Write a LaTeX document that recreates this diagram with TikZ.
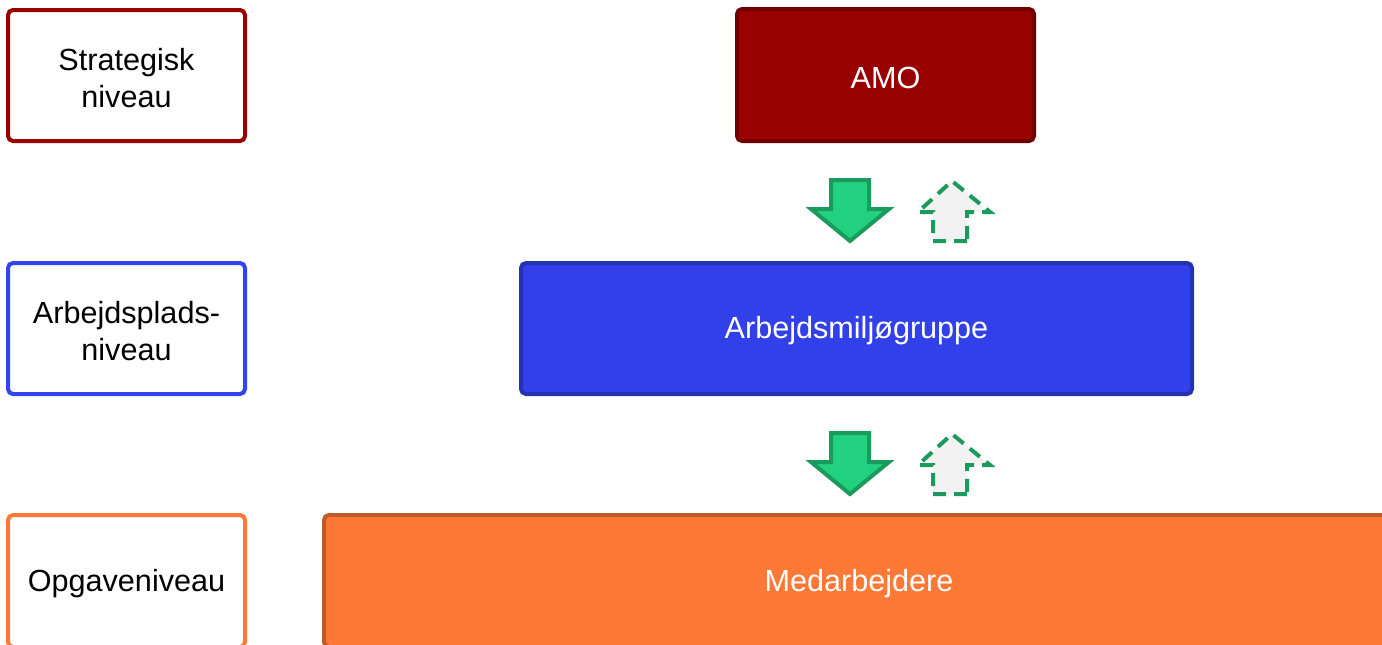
\documentclass[tikz,border=0pt]{standalone}
\usepackage{fontspec}
\setmainfont{Liberation Sans}
\definecolor{dred}{HTML}{990000}
\definecolor{dredline}{HTML}{700000}
\definecolor{bluefill}{HTML}{3240EA}
\definecolor{blueline}{HTML}{2632B0}
\definecolor{blueedge}{HTML}{3344EE}
\definecolor{orfill}{HTML}{FD7935}
\definecolor{orline}{HTML}{C05A27}
\definecolor{grfill}{HTML}{22D17F}
\definecolor{grline}{HTML}{1A9A5C}
\definecolor{upfill}{HTML}{F2F2F2}
\tikzset{
  lvl/.style={draw, line width=4pt, rounded corners=5pt, fill=white, inner sep=0pt,
    minimum width=237pt, minimum height=131pt},
  unit/.style={draw, line width=4pt, rounded corners=5pt, inner sep=0pt,
    minimum height=131pt},
  txt/.style={inner sep=0pt, align=center, font=\fontsize{30.6}{37}\selectfont},
  downarr/.style={fill=grfill, draw=grline, line width=4pt, line join=miter},
  uparr/.style={fill=upfill, draw=grline, line width=4pt, dash pattern=on 13pt off 8pt}
}
\begin{document}
\begin{tikzpicture}[x=1pt,y=-1pt]
\useasboundingbox (0,0) rectangle (1382,645);
\clip (0,0) rectangle (1382,645);
\node[lvl, draw=dred] (strat) at (126.5,75.5) {};
\node[lvl, draw=blueedge] (arbpl) at (126.5,328.5) {};
\node[lvl, draw=orfill, minimum height=132pt] (opg) at (126.5,581) {};
\node[unit, fill=dred, draw=dredline, minimum width=297pt, minimum height=132pt] (amo) at (885.5,75) {};
\node[unit, fill=bluefill, draw=blueline, minimum width=671pt] (amg) at (856.5,328.5) {};
\node[unit, fill=orfill, draw=orline, minimum width=1070pt, minimum height=132pt] (med) at (859,581) {};
\node[txt, text=black] (strat-t) at ([yshift=-2.5pt]strat.center) {Strategisk\\niveau};
\node[txt, text=black] (arbpl-t) at ([yshift=-2.5pt]arbpl.center) {Arbejdsplads-\\niveau};
\node[txt, text=black] (opg-t) at ([yshift=-2.5pt]opg.center) {Opgaveniveau};
\node[txt, text=white] (amo-t) at ([yshift=-2.5pt]amo.center) {AMO};
\node[txt, text=white] (amg-t) at ([yshift=-2.5pt]amg.center) {Arbejdsmiljøgruppe};
\node[txt, text=white] (med-t) at ([yshift=-2.5pt]med.center) {Medarbejdere};
\foreach \dy in {0,253}{
  \draw[downarr] (831,180+\dy) -- (869,180+\dy) -- (869,209+\dy) -- (889,209+\dy)
     -- (850,241+\dy) -- (811,209+\dy) -- (831,209+\dy) -- cycle;
  \draw[uparr] (967,241+\dy) -- (933,241+\dy) -- (933,212+\dy) -- (918,212+\dy)
     -- (952,181+\dy) -- (990,212+\dy) -- (967,212+\dy) -- cycle;
}
\end{tikzpicture}
\end{document}
